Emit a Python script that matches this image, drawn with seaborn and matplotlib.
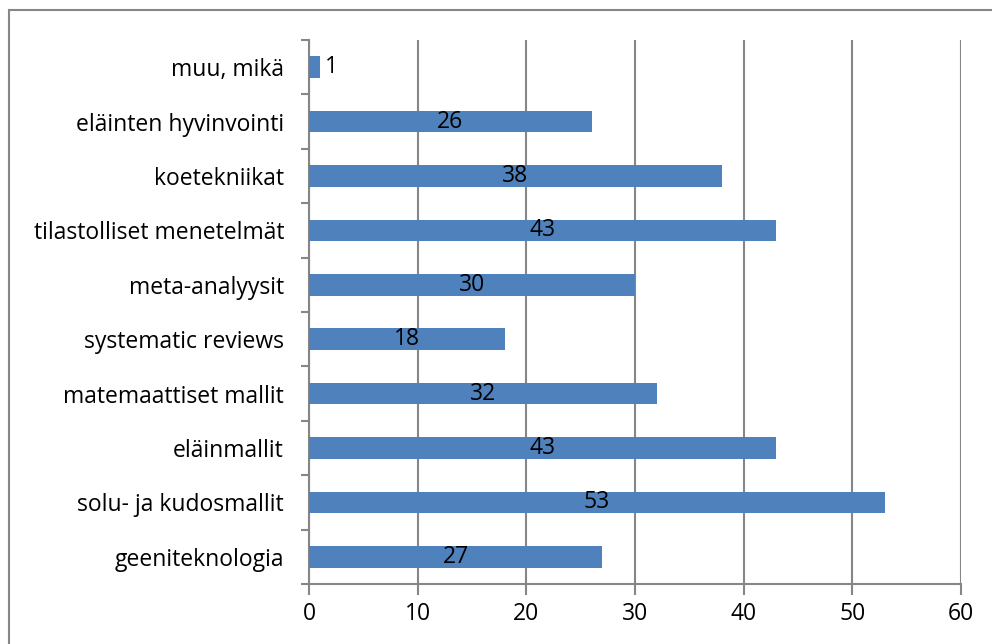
import numpy as np
import pandas as pd
import matplotlib
matplotlib.use('Agg')
import matplotlib.pyplot as plt
import seaborn as sns
from matplotlib.patches import Rectangle

# Data (top to bottom)
kategoriat = ['muu, mikä', 'eläinten hyvinvointi', 'koetekniikat',
              'tilastolliset menetelmät', 'meta-analyysit', 'systematic reviews',
              'matemaattiset mallit', 'eläinmallit', 'solu- ja kudosmallit',
              'geeniteknologia']
arvot = [1, 26, 38, 43, 30, 18, 32, 43, 53, 27]
x_ticks = [0, 10, 20, 30, 40, 50, 60]

df = pd.DataFrame({'Kategoria': kategoriat, 'Arvo': arvot})

sns.set_style('white')
plt.rcParams['font.family'] = ['Open Sans', 'DejaVu Sans']
plt.rcParams['text.color'] = 'black'
plt.rcParams['xtick.labelcolor'] = 'black'
plt.rcParams['ytick.labelcolor'] = 'black'

grey = '#868686'
fs = 16.5
fig = plt.figure(figsize=(9.92, 6.44), dpi=100)
ax = fig.add_axes([309 / 992, 60 / 644, 652 / 992, 544 / 644])

sns.barplot(data=df, y='Kategoria', x='Arvo', orient='h', color='#4F81BD',
            width=0.4, saturation=1, ax=ax, zorder=3, edgecolor='none')

# Labels inside bars, small one outside
cont = ax.containers[0]
for bar, v in zip(cont, arvot):
    y = bar.get_y() + bar.get_height() / 2
    if v < 5:
        ax.text(bar.get_width() + 0.5, y, f'{v}', ha='left', va='center',
                fontsize=fs, color='black', zorder=4)
    else:
        ax.text(bar.get_width() / 2, y, f'{v}', ha='center', va='center',
                fontsize=fs, color='black', zorder=4)

ax.set_xlim(0, 60)
ax.set_ylim(len(kategoriat) - 0.5, -0.5)
ax.set_xticks(x_ticks)
ax.set_xlabel('')
ax.set_ylabel('')
ax.xaxis.grid(True, color=grey, linewidth=1.5, zorder=0)
ax.yaxis.grid(False)

for side in ['top', 'right']:
    ax.spines[side].set_visible(False)
for side in ['left', 'bottom']:
    ax.spines[side].set_color(grey)
    ax.spines[side].set_linewidth(1.5)

ax.tick_params(axis='x', direction='out', length=8, width=1.5, color=grey,
               labelsize=fs, pad=5, bottom=True)
ax.tick_params(axis='y', length=0, labelsize=fs, pad=18)
ax.set_yticks(np.arange(-0.5, len(kategoriat), 1), minor=True)
ax.tick_params(axis='y', which='minor', direction='out', length=6, width=1.5,
               color=grey, left=True)

# Outer chart border
fig.patches.append(Rectangle((9 / 992, -0.1), 1.2, 1.1 - 10 / 644,
                             transform=fig.transFigure, fill=False,
                             edgecolor=grey, linewidth=1.5))

fig.savefig('out.png', dpi=100)
